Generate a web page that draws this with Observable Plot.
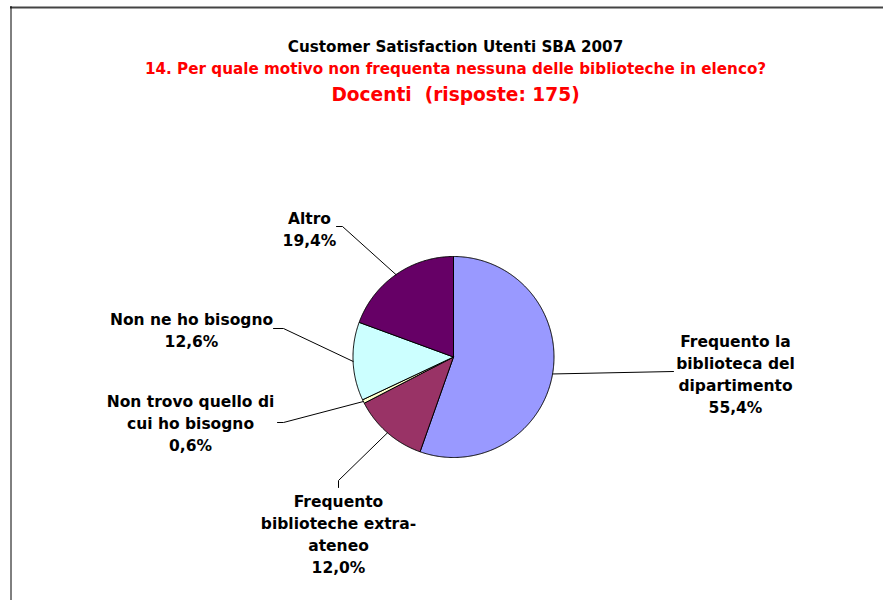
<!DOCTYPE html>
<html>
<head>
<meta charset="utf-8">
<script src="https://cdn.jsdelivr.net/npm/d3@7"></script>
<script src="https://cdn.jsdelivr.net/npm/@observablehq/plot@0.6"></script>
<style>
  html, body { margin: 0; padding: 0; background: #fff; }
  #chart { position: absolute; left: 0; top: 0; }
</style>
</head>
<body>
<div id="chart"></div>
<script>
// ---- data ----
const categories = [
  "Frequento la biblioteca del dipartimento",
  "Frequento biblioteche extra-ateneo",
  "Non trovo quello di cui ho bisogno",
  "Non ne ho bisogno",
  "Altro"
];
const values = [55.4, 12.0, 0.6, 12.6, 19.4];
const colors = ["#9999FF", "#993366", "#FFFFCC", "#CCFFFF", "#660066"];
const labelLines = [
  ["Frequento la", "biblioteca del", "dipartimento"],
  ["Frequento", "biblioteche extra-", "ateneo"],
  ["Non trovo quello di", "cui ho bisogno"],
  ["Non ne ho bisogno"],
  ["Altro"]
];
const titles = [
  "Customer Satisfaction Utenti SBA 2007",
  "14. Per quale motivo non frequenta nessuna delle biblioteche in elenco?",
  "Docenti  (risposte: 175)"
];

// ---- layout (pixels) ----
const W = 883, H = 600;
const CX = 453, CY = 356.5, R = 100.5;
const labelPos = [[735, 346], [338, 506], [190, 406], [191, 324], [309, 223]];
const leaderStart = [
  [[673, 371]],
  [[338, 487], [338, 480]],
  [[277, 422], [283, 422]],
  [[273, 328], [283, 328]],
  [[336, 226], [342, 226]]
];
const titleX = 455;
const titleBase = [51, 73, 100];
const titleSize = [15.2, 15.2, 18.6];
const titleColor = ["#000000", "#FF0000", "#FF0000"];
const lineH = 22;
const FONT = "DejaVu Sans";

// ---- derived ----
const arcs = d3.pie().sort(null).value(d => d)(values);
const slicePts = [];
arcs.forEach((a, i) => {
  const n = Math.max(2, Math.ceil((a.endAngle - a.startAngle) / (Math.PI / 360)));
  slicePts.push({name: categories[i], x: CX, y: CY});
  for (let k = 0; k <= n; k++) {
    const t = a.startAngle + (a.endAngle - a.startAngle) * k / n;
    slicePts.push({name: categories[i], x: CX + R * Math.sin(t), y: CY - R * Math.cos(t)});
  }
  slicePts.push({name: categories[i], x: CX, y: CY});
});

const leaderPts = [];
arcs.forEach((a, i) => {
  const m = (a.startAngle + a.endAngle) / 2;
  leaderStart[i].forEach(([x, y]) => leaderPts.push({name: categories[i], x, y}));
  leaderPts.push({name: categories[i], x: CX + R * Math.sin(m), y: CY - R * Math.cos(m)});
});

const fmt = v => v.toFixed(1).replace(".", ",") + "%";
const labelRows = [];
categories.forEach((c, i) => {
  const lines = [...labelLines[i], fmt(values[i])];
  lines.forEach((t, k) => labelRows.push({text: t, x: labelPos[i][0], y: labelPos[i][1] + k * lineH}));
});

const titleRows = titles.map((t, i) => ({text: t, x: titleX, y: titleBase[i], size: titleSize[i], color: titleColor[i]}));

const plot = Plot.plot({
  width: W,
  height: H,
  margin: 0,
  x: {type: "identity", axis: null},
  y: {type: "identity", axis: null},
  color: {domain: categories, range: colors},
  style: {fontFamily: FONT, background: "#fff"},
  marks: [
    Plot.ruleY([7], {x1: 10, x2: W, stroke: "#444", strokeWidth: 2}),
    Plot.ruleX([10.5], {y1: 6, y2: H, stroke: "#000", strokeWidth: 1}),
    Plot.line(slicePts, {x: "x", y: "y", z: "name", fill: "name", stroke: "#000", strokeWidth: 1, strokeLinejoin: "round", curve: "linear"}),
    Plot.line(leaderPts, {x: "x", y: "y", z: "name", stroke: "#000", strokeWidth: 1, curve: "linear"}),
    Plot.text(labelRows, {x: "x", y: "y", text: "text", textAnchor: "middle", lineAnchor: "bottom", fontSize: 15.5, fontWeight: "bold", fontFamily: FONT, fill: "#000"}),
    ...titleRows.map(r => Plot.text([r], {x: "x", y: "y", text: "text", textAnchor: "middle", lineAnchor: "bottom", fontSize: r.size, fontWeight: "bold", fontFamily: FONT, fill: r.color}))
  ]
});
document.getElementById("chart").appendChild(plot);
</script>
</body>
</html>
